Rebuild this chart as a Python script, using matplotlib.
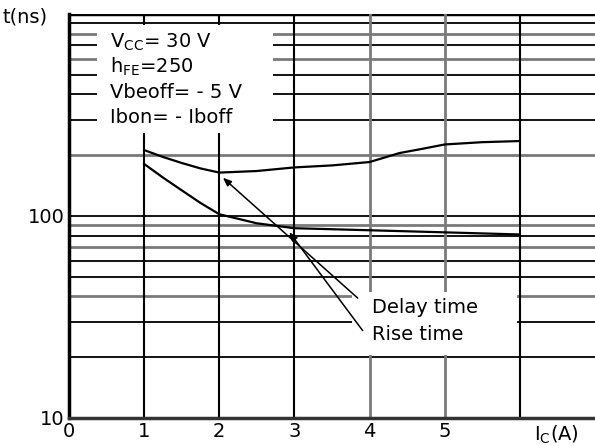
import numpy as np
import matplotlib
matplotlib.use("Agg")
import matplotlib.pyplot as plt
from matplotlib.patches import Rectangle

plt.rcParams['font.family'] = ['DejaVu Sans']
plt.rcParams['mathtext.fontset'] = 'custom'
plt.rcParams['mathtext.rm'] = 'DejaVu Sans'
plt.rcParams['mathtext.it'] = 'DejaVu Sans'

# Data
delay_x = [1, 1.25, 1.5, 1.75, 2, 2.5, 3, 3.5, 4, 4.4, 4.7, 5, 5.5, 6]
delay_y = [212, 196, 183, 172, 164, 167, 174, 178, 185, 205, 215, 226, 232, 235]
rise_x = [1, 1.25, 1.5, 1.75, 2, 2.5, 3, 4, 5, 6]
rise_y = [181, 155, 134, 116, 102, 92, 87, 85, 83, 81]

x_ticks = [0, 1, 2, 3, 4, 5]
x_tick_labels = ['0', '1', '2', '3', '4', '5']
y_ticks = [10, 100]
y_tick_labels = ['10', '100']
conditions = ["V$_{\\mathrm{CC}}$= 30 V", "h$_{\\mathrm{FE}}$=250", "Vbeoff= - 5 V", "Ibon= - Iboff"]
curve_labels = ['Delay time', 'Rise time']

FS = 14

fig = plt.figure(figsize=(5.95, 4.46), dpi=100)
ax = fig.add_axes([0.116, 0.0628, 0.884, 0.9058])
ax.set_yscale('log')
ax.set_xlim(0, 7)
ax.set_ylim(10, 1000)

gray = '#7a7a7a'
# Grid lines
minor_vals = [v * d for d in (10, 100) for v in range(1, 10)] + [1000]
gray_h = {800, 600, 200, 90, 70, 40}
for v in minor_vals:
    if v == 10:
        continue
    if v in gray_h:
        ax.axhline(v, color=gray, lw=2.0, zorder=1)
    else:
        ax.axhline(v, color='black', lw=1.3 if v != 1000 else 2.5, zorder=1)
for xv in [1, 2, 3, 4, 5, 6]:
    if xv in (4, 5):
        ax.axvline(xv, color=gray, lw=2.0, zorder=1)
    else:
        ax.axvline(xv, color='black', lw=1.5, zorder=1)

# White boxes behind annotations
ax.add_patch(Rectangle((0.37, 258), 2.34, 883 - 258, facecolor='white', edgecolor='none', zorder=2))
ax.add_patch(Rectangle((3.76, 20.4), 2.2, 42 - 20.4, facecolor='white', edgecolor='none', zorder=2))

ax.plot(delay_x, delay_y, color='black', lw=1.6, zorder=3)
ax.plot(rise_x, rise_y, color='black', lw=1.6, zorder=3)

# condition texts
cond_y = [726, 547, 411, 309]
for t, yv in zip(conditions, cond_y):
    ax.text(0.55, yv, t, fontsize=FS, va='center', ha='left', zorder=4)

arrow = dict(arrowstyle='-|>,head_length=0.5,head_width=0.2', color='black', lw=1.1)
ax.annotate('', xy=(2.02, 158), xytext=(3.87, 38.4), arrowprops=arrow, zorder=4)
ax.annotate('', xy=(2.91, 85.3), xytext=(3.93, 26.4), arrowprops=arrow, zorder=4)
ax.text(4.03, 35.1, curve_labels[0], fontsize=FS, va='center', ha='left', zorder=4)
ax.text(4.03, 26.0, curve_labels[1], fontsize=FS, va='center', ha='left', zorder=4)

ax.set_xticks(x_ticks)
ax.set_xticklabels(x_tick_labels, fontsize=FS)
ax.set_yticks(y_ticks)
ax.set_yticklabels(y_tick_labels, fontsize=FS)
ax.yaxis.set_minor_locator(matplotlib.ticker.NullLocator())
ax.tick_params(axis='x', length=0, pad=3)
ax.tick_params(axis='y', length=0, pad=3)

for s in ['top', 'right']:
    ax.spines[s].set_visible(False)
ax.spines['left'].set_linewidth(2.5)
ax.spines['bottom'].set_linewidth(2.5)
ax.spines['bottom'].set_color('#333333')

fig.text(0.004, 0.963, 't(ns)', fontsize=FS, va='center', ha='left')
fig.text(0.897, 0.025, 'I$_{\\mathrm{C}}$(A)', fontsize=FS, va='center', ha='left')

fig.savefig('out.png', dpi=100)
